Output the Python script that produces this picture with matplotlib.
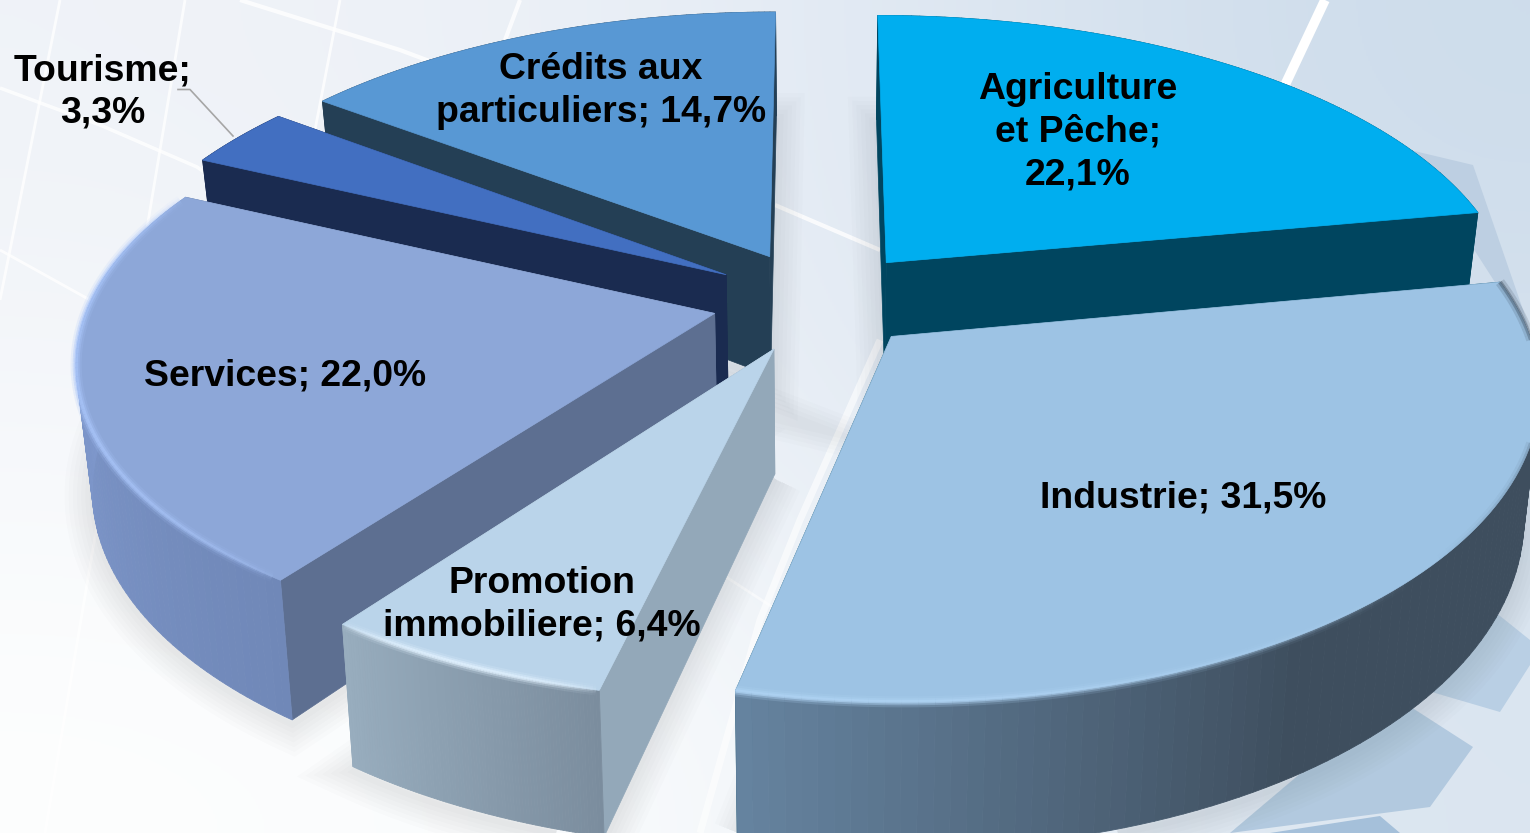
import numpy as np
import matplotlib
matplotlib.use("Agg")
import matplotlib.pyplot as plt
from matplotlib.collections import PolyCollection, LineCollection
from matplotlib.colors import to_rgb

# donnees (sens horaire depuis le haut)
categories = ["Agriculture\net Pêche", "Industrie", "Promotion\nimmobiliere", "Services", "Tourisme", "Crédits aux\nparticuliers"]
shares = [22.1, 31.5, 6.4, 22.0, 3.3, 14.7]
separators = [";\n", "; ", "; ", "; ", ";\n", "; "]

# couleurs : dessus, flanc radial, paroi exterieure (debut/fin de l'arc), reflet
top_colors = ["#00AEEF", "#9DC3E4", "#BAD4EA", "#8DA7D8", "#426FC1", "#5898D4"]
side_colors = ["#00455F", "#00455F", "#93A8B9", "#5D6F91", "#1A2B50", "#243F55"]
wall_start = ["#00455F", "#3E4E5E", "#7B8D9E", "#7088B8", "#1A2B50", "#243F55"]
wall_end = ["#00455F", "#65839F", "#98ADBE", "#86A0D6", "#1A2B50", "#243F55"]
rim_colors = [None, "#AFD3F3", "#E2F2FF", "#A8C4F8", None, None]

label_xy = [(1078, 132), (1183, 498), (542, 605), (285, 376), (103, 92), (601, 91)]

# camera du camembert 3D
cx, cy = 820, 300
R, K = 630, 300
depth_p = 0.155
thick = 122
shrink = 0.022
explode = 0.165
rad_x = [1.003, 0.995, 0.985, 0.992, 1, 1]
rad_y = [0.985, 0.99, 0.95, 0.955, 0.98, 0.98]
shift_x = [1, -2, -2, -4, -6, -5]
shift_y = [0, 0, 3, 1, 0, 0]


def project(i, X, Y, Z):
    s = 1 / (1 + depth_p * Y)
    return cx + shift_x[i] + R * X * s * (1 - shrink * Z), cy + shift_y[i] - K * Y * s + thick * Z * s


def slice_arc(i, t0, t1, ox, oy, Z):
    t = np.linspace(t0, t1, 90)
    return project(i, ox + rad_x[i] * np.sin(t), oy + rad_y[i] * np.cos(t), Z)


fig = plt.figure(figsize=(15.3, 8.33), dpi=100)
ax = fig.add_axes([0, 0, 1, 1])
ax.set_xlim(0, 1530)
ax.set_ylim(833, 0)
ax.axis("off")

# fond
bg = np.array([[[240, 243, 248], [232, 238, 246], [205, 220, 235]],
               [[246, 248, 251], [234, 239, 246], [214, 226, 238]],
               [[253, 254, 254], [248, 250, 252], [218, 229, 240]]]) / 255
ax.imshow(bg, extent=(0, 1530, 833, 0), interpolation="bicubic", aspect="auto", zorder=0)
ax.set_xlim(0, 1530)
ax.set_ylim(833, 0)

for xs, ys, lw, al in [((60, 0), (0, 300), 2, .8), ((185, 135, 45), (0, 300, 833), 2, .8), ((340, 315), (0, 130), 2, .8),
                       ((0, 100, 197, 300), (88, 125, 167, 240), 2.5, .8), ((240, 400, 520), (0, 50, 95), 3, .8),
                       ((520, 505), (0, 40), 3, .8), ((1325, 1285), (0, 85), 7, 1), ((775, 880), (205, 250), 3, .8),
                       ((880, 800, 760, 700), (340, 520, 620, 833), 5, .6), ((700, 900), (560, 690), 2, .5),
                       ((0, 90), (250, 300), 2, .8)]:
    ax.plot(xs, ys, color="white", lw=lw, alpha=al, zorder=1, solid_capstyle="butt")

for poly, col in [([(1410, 150), (1473, 165), (1530, 330), (1500, 290)], "#BDCFE2"),
                  ([(1425, 690), (1500, 712), (1530, 665), (1530, 640), (1495, 612)], "#B9CFE4"),
                  ([(1230, 833), (1430, 807), (1473, 747), (1400, 700), (1340, 740)], "#B2C9DF"),
                  ([(1270, 833), (1380, 816), (1400, 833)], "#A5C0DA")]:
    ax.fill(*zip(*poly), color=col, lw=0, zorder=1)

shares_arr = np.array(shares)
ends = np.cumsum(shares_arr) / shares_arr.sum() * 2 * np.pi
starts = np.r_[0, ends[:-1]]
mids = (starts + ends) / 2
order = np.argsort(-np.cos(mids))

# ombre douce sous les parts
for i in range(len(shares)):
    ox, oy = explode * np.sin(mids[i]), explode * np.cos(mids[i])
    ax_, ay_ = project(i, ox, oy, 1)
    bx, by = slice_arc(i, starts[i], ends[i], ox, oy, 1)
    for lw in range(4, 44, 6):
        ax.fill(np.r_[ax_, bx], np.r_[ay_, by] + 5, fc=(0, 0, 0, 0.0), ec=(0.25, 0.3, 0.35, 0.015), lw=lw, zorder=2)

z = 3
for i in order:
    ox, oy = explode * np.sin(mids[i]), explode * np.cos(mids[i])
    tx, ty = slice_arc(i, starts[i], ends[i], ox, oy, 0)
    bx, by = slice_arc(i, starts[i], ends[i], ox, oy, 1)
    apx, apy = project(i, ox, oy, 0)
    abx, aby = project(i, ox, oy, 1)

    # flancs radiaux
    for k in (0, -1):
        ax.fill([apx, tx[k], bx[k], abx], [apy, ty[k], by[k], aby], color=side_colors[i], lw=0.5, zorder=z)

    # paroi exterieure, par petits quadrilateres pour le degrade
    quads = [[(tx[j], ty[j]), (tx[j + 1], ty[j + 1]), (bx[j + 1], by[j + 1]), (bx[j], by[j])] for j in range(len(tx) - 1)]
    f = np.linspace(0, 1, len(quads))[:, None]
    c0, c1 = np.array(to_rgb(wall_start[i])), np.array(to_rgb(wall_end[i]))
    if i == 1:
        f = np.clip((f - 0.6) / 0.4, 0, 1)
    cols = c0 * (1 - f) + c1 * f
    ax.add_collection(PolyCollection(quads, facecolors=cols, edgecolors=cols, linewidths=0.6, zorder=z + 1))

    # dessus
    ax.fill(np.r_[apx, tx], np.r_[apy, ty], color=top_colors[i], lw=0.5, zorder=z + 2)

    # reflet le long du bord avant
    if rim_colors[i] is not None:
        pts = np.c_[tx, ty]
        segs = np.stack([pts[:-1], pts[1:]], axis=1)
        u = np.linspace(0, 1, len(segs))
        a = np.sin(u * np.pi) ** 0.5
        if i == 1:
            a = np.clip(u * 2.5 - 1.2, 0, 1)
            # bord flou sombre du cote droit
            dark = np.array(to_rgb(wall_start[i]))
            for lw, alpha in [(7, 0.2), (3, 0.45)]:
                rgba = np.c_[np.tile(dark, (len(segs), 1)), np.clip(1 - u * 2.2, 0, 1) * alpha]
                ax.add_collection(LineCollection(segs, colors=rgba, linewidths=lw, zorder=z + 3))
        rgb = np.array(to_rgb(rim_colors[i]))
        for lw, alpha in [(8, 0.2), (5, 0.4), (2.5, 0.7)]:
            rgba = np.c_[np.tile(rgb, (len(segs), 1)), a * alpha]
            ax.add_collection(LineCollection(segs, colors=rgba, linewidths=lw, zorder=z + 3))
    z += 5

# etiquettes
for name, sep, val, (lx, ly) in zip(categories, separators, shares, label_xy):
    txt = name + sep + f"{val:.1f}%".replace(".", ",")
    ax.text(lx, ly, txt, ha="center", va="center", family="Liberation Sans", fontweight="bold",
            fontsize=26.9, color="black", linespacing=1.28, zorder=100)

# trait de rappel Tourisme
ax.plot([178, 190, 233], [89.5, 89.5, 136], color="#A6A6A6", lw=1.2, zorder=100)

fig.savefig("out.png", dpi=100)
